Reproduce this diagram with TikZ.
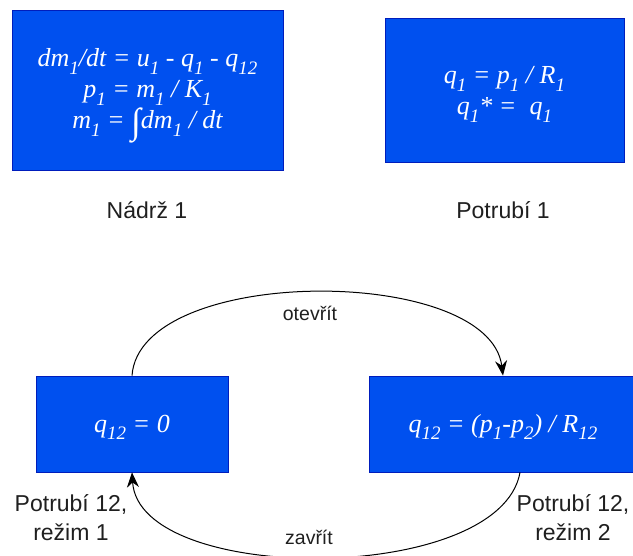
\documentclass[tikz,border=0pt]{standalone}
\usepackage{fontspec}
\setmainfont{Liberation Sans}
\newfontfamily\eqfont{Liberation Serif}
\usetikzlibrary{arrows.meta, positioning}
\definecolor{blockfill}{HTML}{0050EF}
\definecolor{blockline}{HTML}{001DBC}
\newcommand{\low}[1]{\raisebox{-0.28em}{\fontsize{19}{19}\selectfont #1}}
\newcommand{\bigint}{\raisebox{-0.18em}{\fontsize{36}{31}\selectfont ∫}}

\begin{document}
\begin{tikzpicture}[x=1pt, y=-1pt,
  block/.style={rectangle, draw=blockline, fill=blockfill, line width=0.8pt},
  eqtext/.style={text=white, align=center, font=\eqfont\itshape\fontsize{26}{31}\selectfont},
  caption/.style={align=center, font=\fontsize{23}{29}\selectfont, text=black!88},
  trans/.style={-{Stealth[length=15pt, width=12pt, inset=5pt]}, line width=1pt},
  tlabel/.style={font=\fontsize{19.5}{24}\selectfont, text=black!88}
]
  \useasboundingbox (0,0) rectangle (633,556);

  \node[block, minimum width=271pt, minimum height=160pt] (tank) at (147.5,90) {};
  \node[block, minimum width=239pt, minimum height=144pt] (pipe) at (504.5,90) {};
  \node[block, minimum width=192pt, minimum height=96pt] (mode1) at (132,424) {};
  \node[block, minimum width=268pt, minimum height=96pt] (mode2) at (503,424) {};

  \node[eqtext] (tankeq) at ([yshift=-6pt]tank.center)
    {dm\low{1}/dt = u\low{1} - q\low{1} - q\low{12}\\
     p\low{1} = m\low{1} / K\low{1}\\
     m\low{1} = \bigint dm\low{1} / dt};
  \node[eqtext] (pipeeq) at ([yshift=-4.5pt]pipe.center)
    {q\low{1} = p\low{1} / R\low{1}\\
     q\low{1}* =~ q\low{1}};
  \node[eqtext] (mode1eq) at ([yshift=-3pt]mode1.center) {q\low{12} = 0};
  \node[eqtext] (mode2eq) at ([yshift=-3pt]mode2.center) {q\low{12} = (p\low{1}-p\low{2}) / R\low{12}};

  \node[caption] (tanklbl) at (147,210) {Nádrž 1};
  \node[caption] (pipelbl) at (503,210) {Potrubí 1};
  \node[caption] (mode1lbl) at (71,517.5) {Potrubí 12,\\režim 1};
  \node[caption] (mode2lbl) at (573,517.5) {Potrubí 12,\\režim 2};

  \node[tlabel] (openlbl) at (310,313) {otevřít};
  \node[tlabel] (closelbl) at (309,537) {zavřít};

  \draw[trans] (mode1.north) .. controls +(8,-111) and +(-14,-111) .. (mode2.north);
  \draw[trans] ([xshift=17pt]mode2.south) .. controls +(-20,113) and +(7,113) .. (mode1.south);
\end{tikzpicture}
\end{document}
